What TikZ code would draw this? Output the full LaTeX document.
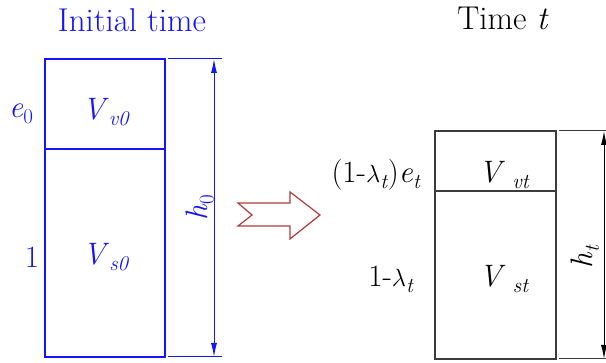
\documentclass[tikz,border=0pt]{standalone}
\usetikzlibrary{arrows.meta}
\definecolor{dimblue}{RGB}{20,20,255}
\definecolor{arrowred}{RGB}{178,60,60}
\definecolor{boxgray}{RGB}{60,60,60}
\newcommand\lowsub[1]{\raisebox{-0.2em}{\fontsize{21}{21}\selectfont #1}}
\newcommand\lam{\ensuremath{\lambda}}
\begin{document}
\begin{tikzpicture}[x=1pt,y=-1pt,
  txt/.style={inner sep=0pt, font=\rmfamily\fontsize{31}{33}\selectfont},
  title/.style={inner sep=0pt, font=\rmfamily\fontsize{33}{35}\selectfont},
  bluebox/.style={draw=dimblue, line width=1.1pt},
  greybox/.style={draw=boxgray, line width=1.1pt},
  ext/.style={line width=1pt},
  dimline/.style={line width=1pt, {Latex[length=14pt,width=6pt]}-{Latex[length=14pt,width=6pt]}},
  hollowarrow/.style={draw=arrowred, line width=1.2pt, line join=miter}
]
\useasboundingbox (0,0) rectangle (606,363);

% ---------- left: initial time ----------
\node[title, text=dimblue] (title0) at (132,20) {Initial time};
\coordinate (L1) at (45,59);
\coordinate (L2) at (165,149);
\coordinate (L3) at (45,149);
\coordinate (L4) at (165,357);
\draw[bluebox] (L1) rectangle (L4);
\draw[bluebox] (L3) -- (L2);
\coordinate (E0a) at (168,59);  \coordinate (E0b) at (222,59);
\coordinate (E0c) at (168,357); \coordinate (E0d) at (222,357);
\draw[ext, draw=dimblue] (E0a) -- (E0b);
\draw[ext, draw=dimblue] (E0c) -- (E0d);
\coordinate (D0t) at (214,59); \coordinate (D0b) at (214,357);
\draw[dimline, draw=dimblue, fill=dimblue] (D0t) -- (D0b);

\node[txt, text=dimblue] (e0) at (21,114) {\textit{e}\lowsub{0}};
\node[txt, text=dimblue] (vv0) at (106,112) {\textit{V}\lowsub{\textit{v0}}};
\node[txt, text=dimblue] (one) at (32,257) {1};
\node[txt, text=dimblue] (vs0) at (106,257) {\textit{V}\lowsub{\textit{s0}}};
\node[txt, text=dimblue, rotate=90] (h0) at (200,208) {\textit{h}\lowsub{0}};

% ---------- transition arrow ----------
\coordinate (A1) at (238,203);
\coordinate (A2) at (290,203);
\coordinate (A3) at (290,192);
\coordinate (A4) at (320,215);
\coordinate (A5) at (290,239);
\coordinate (A6) at (290,226);
\coordinate (A7) at (238,226);
\coordinate (A8) at (252,215);
\draw[hollowarrow] (A1) -- (A2) -- (A3) -- (A4) -- (A5) -- (A6) -- (A7) -- (A8) -- cycle;

% ---------- right: time t ----------
\node[title] (titlet) at (503,18) {Time \textit{t}};
\coordinate (R1) at (435,131);
\coordinate (R2) at (556,191);
\coordinate (R3) at (435,191);
\coordinate (R4) at (556,359);
\draw[greybox] (R1) rectangle (R4);
\draw[greybox] (R3) -- (R2);
\coordinate (Eta) at (559,131); \coordinate (Etb) at (606,131);
\coordinate (Etc) at (559,359); \coordinate (Etd) at (606,359);
\draw[ext, draw=boxgray] (Eta) -- (Etb);
\draw[ext, draw=boxgray] (Etc) -- (Etd);
\coordinate (Dtt) at (604,131); \coordinate (Dtb) at (604,359);
\draw[dimline, draw=black, fill=black] (Dtt) -- (Dtb);

\node[txt, anchor=east] (evt) at (421,175) {(1-\lam\lowsub{\textit{t}})\textit{e}\lowsub{\textit{t}}};
\node[txt] (vvt) at (504,175) {\textit{V}\lowsub{\textit{ vt}}};
\node[txt, anchor=east] (lst) at (414,279) {1-\lam\lowsub{\textit{t}}};
\node[txt] (vst) at (504,279) {\textit{V}\lowsub{\textit{ st}}};
\node[txt, rotate=90] (ht) at (585,257) {\textit{h}\lowsub{\textit{t}}};
\end{tikzpicture}
\end{document}
